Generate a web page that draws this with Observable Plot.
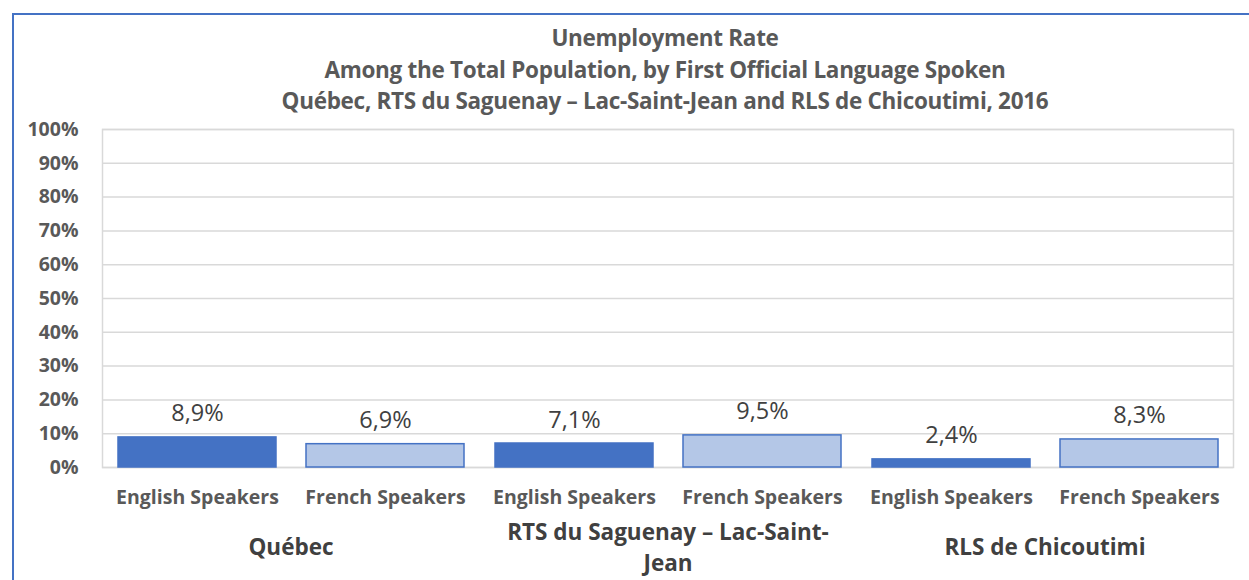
<!DOCTYPE html>
<html><head><meta charset="utf-8">
<script src="https://cdn.jsdelivr.net/npm/d3@7"></script>
<script src="https://cdn.jsdelivr.net/npm/@observablehq/plot@0.6"></script>
<style>
body{margin:0;background:#fff;}
#wrap{position:relative;width:1249px;height:580px;overflow:hidden;font-family:"Open Sans",sans-serif;}
#border{position:absolute;left:12px;top:13px;width:1400px;height:800px;border-left:2px solid #4472C4;border-top:2px solid #4472C4;}
#title{position:absolute;left:81px;width:1168px;top:22px;text-align:center;color:#595959;font-weight:bold;font-size:22.5px;line-height:31.5px;letter-spacing:-0.3px;}
#chart{position:absolute;left:0;top:0;}
</style>
</head><body>
<div id="wrap">
<div id="border"></div>
<div id="title"></div>
<div id="chart"></div>
</div>
<script>
const titleLines = ["Unemployment Rate","Among the Total Population, by First Official Language Spoken","Québec, RTS du Saguenay – Lac-Saint-Jean and RLS de Chicoutimi, 2016"];
const groups = ["Québec","RTS du Saguenay – Lac-Saint-Jean","RLS de Chicoutimi"];
const groupTickLabels = ["Québec","RTS du Saguenay – Lac-Saint-\nJean","RLS de Chicoutimi"];
const languages = ["English Speakers","French Speakers"];
const englishRates = [8.9, 7.1, 2.4];
const frenchRates = [6.9, 9.5, 8.3];
const yTicks = [0,10,20,30,40,50,60,70,80,90,100];

document.getElementById("title").innerHTML = titleLines.map(t => `<div>${t}</div>`).join("");

const rows = [];
groups.forEach((g, i) => {
  rows.push({group: g, lang: languages[0], value: englishRates[i]});
  rows.push({group: g, lang: languages[1], value: frenchRates[i]});
});
const fmt = v => v.toFixed(1).replace(".", ",") + "%";

const chart = Plot.plot({
  width: 1249, height: 580,
  marginTop: 129, marginBottom: 113, marginLeft: 101, marginRight: 16,
  style: {fontFamily: "'Open Sans', sans-serif", background: "transparent"},
  fx: {domain: groups, padding: 0, label: null},
  x: {domain: languages, paddingInner: 0.16, paddingOuter: 0.08, label: null},
  y: {domain: [0, 100], label: null},
  color: {domain: languages, range: ["#4472C4", "#B4C7E7"]},
  marks: [
    Plot.gridY(yTicks, {stroke: "#D9D9D9", strokeOpacity: 1, strokeWidth: 1.5}),
    Plot.frame({stroke: "#D9D9D9", strokeWidth: 1.5, facet: "super"}),
    Plot.barY(rows, {fx: "group", x: "lang", y: "value", fill: "lang", stroke: "#4472C4", strokeWidth: 1.5}),
    Plot.text(rows, {fx: "group", x: "lang", y: "value", text: d => fmt(d.value), lineAnchor: "bottom", dy: -16, fontSize: 23.5, fill: "#404040"}),
    Plot.axisY(yTicks, {tickFormat: d => d + "%", tickSize: 0, tickPadding: 24, fontSize: 19.5, fontWeight: "bold", color: "#595959", label: null}),
    Plot.axisX({tickSize: 0, tickPadding: 23, fontSize: 19.5, fontWeight: "bold", color: "#595959", label: null}),
    Plot.axisFx({anchor: "bottom", tickSize: 0, tickPadding: 78, lineAnchor: "middle", lineHeight: 1.38, tickFormat: g => groupTickLabels[groups.indexOf(g)], fontSize: 22.5, fontWeight: "bold", color: "#404040", label: null})
  ]
});
document.getElementById("chart").appendChild(chart);
</script>
</body></html>
